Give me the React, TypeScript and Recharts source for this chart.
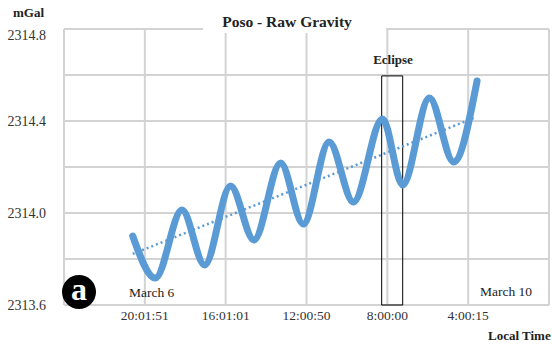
import React from 'react'
import { LineChart, Line, XAxis, YAxis, CartesianGrid, ReferenceArea } from 'recharts'

// x is measured in grid columns (0..6), y in mGal
const gravityX = [0.85, 1.13, 1.46, 1.74, 2.06, 2.35, 2.68, 2.96, 3.28, 3.58, 3.94, 4.19, 4.52, 4.82, 5.11]
const gravityY = [2313.9, 2313.717, 2314.013, 2313.774, 2314.117, 2313.883, 2314.217, 2313.952, 2314.309, 2314.048, 2314.409, 2314.122, 2314.5, 2314.222, 2314.574]
const trendX = [0.85, 5.1]
const trendY = [2313.822, 2314.417]

const xTicks = [0, 1, 2, 3, 4, 5, 6]
const xLabels = ['', '20:01:51', '16:01:01', '12:00:50', '8:00:00', '4:00:15', '']
const yTicks = [2313.6, 2313.8, 2314.0, 2314.2, 2314.4, 2314.6, 2314.8]
const yLabels = ['2313.6', '', '2314.0', '', '2314.4', '', '2314.8']

const eclipseStart = 3.93
const eclipseEnd = 4.19
const eclipseTop = 2314.596

const gravity = gravityX.map((x, i) => ({ x, y: gravityY[i] }))
const trend = trendX.map((x, i) => ({ x, y: trendY[i] }))

const serif = '"Liberation Serif", "Times New Roman", serif'
const blue = '#5B9BD5'

const YTick = (props: any) => {
  const { x, y, payload } = props
  const i = yTicks.indexOf(payload.value)
  const shift = i === yTicks.length - 1 ? 6 : 0
  return (
    <text x={x} y={y + shift} textAnchor="end" dominantBaseline="central" fontSize={14} fontFamily={serif} fill="#333">
      {yLabels[i]}
    </text>
  )
}

const abs = (left: number, top: number, extra: React.CSSProperties = {}): React.CSSProperties => ({
  position: 'absolute', left, top, fontFamily: serif, color: '#222', whiteSpace: 'nowrap', lineHeight: 1, ...extra,
})

export default function App() {
  return (
    <div style={{ position: 'absolute', left: 0, top: 0, width: 552, height: 347, background: '#fff' }}>
      <LineChart width={552} height={347} margin={{ top: 29, right: 3, bottom: 12, left: 0 }}>
        <CartesianGrid stroke="#d3d3d3" strokeWidth={2} />
        <XAxis
          type="number"
          dataKey="x"
          domain={[0, 6]}
          ticks={xTicks}
          tickFormatter={(v: number) => xLabels[xTicks.indexOf(v)]}
          height={30}
          axisLine={false}
          tickLine={false}
          tickSize={0}
          tickMargin={5}
          tick={{ fontSize: 13.5, fontFamily: serif, fill: '#333' }}
        />
        <YAxis
          type="number"
          dataKey="y"
          domain={[2313.6, 2314.8]}
          ticks={yTicks}
          width={64}
          axisLine={false}
          tickLine={false}
          tickSize={0}
          tickMargin={18}
          tick={<YTick />}
        />
        <Line data={gravity} dataKey="y" type="monotone" stroke={blue} strokeWidth={7} strokeLinecap="round" dot={false} isAnimationActive={false} />
        <Line data={trend} dataKey="y" type="linear" stroke={blue} strokeWidth={2.5} strokeDasharray="2 3" dot={false} isAnimationActive={false} />
        <ReferenceArea x1={eclipseStart} x2={eclipseEnd} y1={2313.6} y2={eclipseTop} stroke="#000" strokeWidth={1} fill="none" fillOpacity={0} ifOverflow="visible" />
      </LineChart>

      <div style={abs(203, 20, { width: 183, height: 13, background: '#fff' })} />
      <div style={abs(287, 14, { transform: 'translateX(-50%)', fontSize: 15.5, fontWeight: 'bold' })}>Poso - Raw Gravity</div>
      <div style={abs(13, 6, { fontSize: 13, fontWeight: 'bold' })}>mGal</div>
      <div style={abs(488, 329, { fontSize: 13, fontWeight: 'bold' })}>Local Time</div>
      <div style={abs(393, 53, { transform: 'translateX(-50%)', fontSize: 13, fontWeight: 'bold' })}>Eclipse</div>
      <div style={abs(129, 286, { fontSize: 13.5 })}>March 6</div>
      <div style={abs(480, 285, { fontSize: 13.5 })}>March 10</div>
      <div style={abs(62, 275, { width: 34, height: 34, borderRadius: '50%', background: '#000', color: '#fff', fontSize: 32, fontWeight: 'bold', textAlign: 'center', lineHeight: '28px' })}>a</div>
    </div>
  )
}
